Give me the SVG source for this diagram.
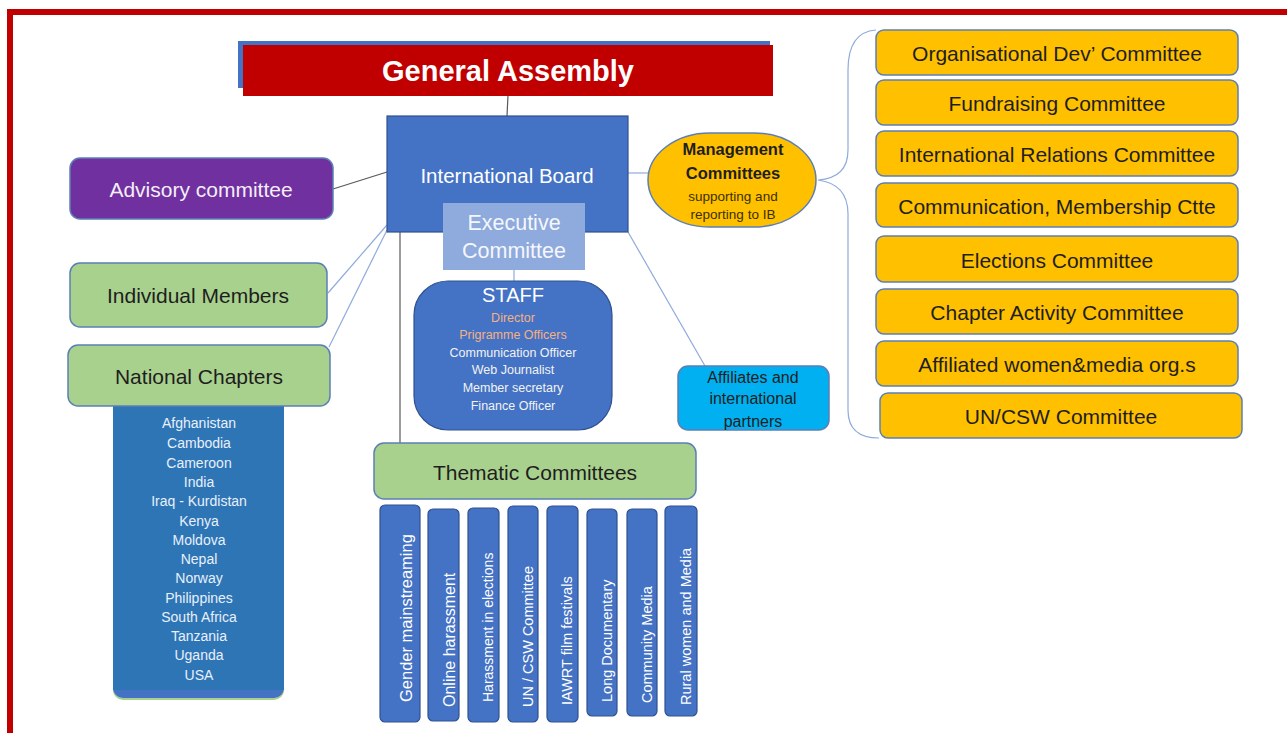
<svg xmlns="http://www.w3.org/2000/svg" width="1287" height="733" viewBox="0 0 1287 733">
<style>
text{font-family:"Liberation Sans",Arial,sans-serif;text-anchor:middle;dominant-baseline:central}
.blue{fill:#4472C4;stroke:#2F528F;stroke-width:1.2}
.green{fill:#A9D18E;stroke:#5B7FB5;stroke-width:1.5}
.gold{fill:#FFC000;stroke:#5B7FB5;stroke-width:1.5}
.dk{fill:#1E1E1E}
.wt{fill:#FFFFFF}
.line-d{stroke:#595959;stroke-width:1.2;fill:none}
.line-b{stroke:#8FAADC;stroke-width:1.2;fill:none}
.comm{font-size:21px}
.vt{font-size:14.5px;fill:#FFFFFF;text-anchor:start}
.cty{font-size:14px;fill:#E8F0FA}
.stf{font-size:12.5px;fill:#F2F2F2}
</style>
<rect x="0" y="0" width="1287" height="733" fill="#FFFFFF"/>
<path d="M10,733 L10,12 L1287,12" fill="none" stroke="#C00000" stroke-width="6"/>

<g id="connectors">
<path class="line-d" d="M508,95 L507,116"/>
<path class="line-d" d="M333,189 L387,172"/>
<path class="line-b" d="M387,225 L328,293"/>
<path class="line-b" d="M387,230 L329,347"/>
<path class="line-d" d="M400,232 L400,443"/>
<path class="line-b" d="M514,270 L514,281"/>
<path class="line-b" d="M628,173 L648,173"/>
<path class="line-b" d="M628,232 L705,366"/>
<path class="line-b" d="M876,30 Q848,32 848,70 L848,150 Q848,178 818,180 Q848,184 848,214 L848,410 Q848,438 879,438"/>
</g>

<g id="general-assembly">
<rect x="238" y="41" width="532" height="47" fill="#4472C4"/>
<rect x="243" y="45" width="530" height="51" fill="#C00000"/>
<text x="508" y="71" font-size="29" font-weight="bold" class="wt">General Assembly</text>
</g>

<g id="international-board">
<rect x="387" y="116" width="241" height="116" class="blue"/>
<text x="507" y="175" font-size="20.5" class="wt">International Board</text>
</g>

<g id="executive-committee">
<rect x="443" y="203" width="142" height="67" fill="#8FAADC"/>
<text x="514" y="223" font-size="21.5" fill="#F4F7FC">Executive</text>
<text x="514" y="251" font-size="21.5" fill="#F4F7FC">Committee</text>
</g>

<g id="staff">
<rect x="414" y="281" width="198" height="149" rx="34" class="blue"/>
<text x="513" y="295" font-size="20" class="wt">STAFF</text>
<text x="513" y="318" class="stf" style="fill:#F4B183">Director</text>
<text x="513" y="335" class="stf" style="fill:#F4B183">Prigramme  Officers</text>
<text x="513" y="353" class="stf">Communication Officer</text>
<text x="513" y="370" class="stf">Web Journalist</text>
<text x="513" y="388" class="stf">Member  secretary</text>
<text x="513" y="406" class="stf">Finance Officer</text>
</g>

<g id="advisory-committee">
<rect x="70" y="158" width="263" height="61" rx="10" fill="#7030A0" stroke="#5B7FB5" stroke-width="1.5"/>
<text x="201" y="189" class="comm" fill="#F4EEF8">Advisory committee</text>
</g>

<g id="individual-members">
<rect x="70" y="263" width="257" height="64" rx="10" class="green"/>
<text x="198" y="295" class="comm dk">Individual Members</text>
</g>

<g id="national-chapters">
<rect x="113" y="400" width="171" height="300" rx="10" fill="#A9D18E"/>
<rect x="113" y="400" width="171" height="298" rx="10" fill="#4472C4"/>
<rect x="113" y="400" width="171" height="290" fill="#2E75B6"/>
<rect x="68" y="345" width="262" height="61" rx="10" class="green"/>
<text x="199" y="376" class="comm dk">National Chapters</text>
<text x="199" y="423" class="cty">Afghanistan</text>
<text x="199" y="443" class="cty">Cambodia</text>
<text x="199" y="463" class="cty">Cameroon</text>
<text x="199" y="482" class="cty">India</text>
<text x="199" y="501" class="cty">Iraq - Kurdistan</text>
<text x="199" y="521" class="cty">Kenya</text>
<text x="199" y="540" class="cty">Moldova</text>
<text x="199" y="559" class="cty">Nepal</text>
<text x="199" y="578" class="cty">Norway</text>
<text x="199" y="598" class="cty">Philippines</text>
<text x="199" y="617" class="cty">South Africa</text>
<text x="199" y="636" class="cty">Tanzania</text>
<text x="199" y="655" class="cty">Uganda</text>
<text x="199" y="675" class="cty">USA</text>
</g>

<g id="thematic-committees">
<rect x="374" y="443" width="322" height="56" rx="10" class="green"/>
<text x="535" y="472" class="comm dk">Thematic Committees</text>
</g>

<g id="tc-gender-mainstreaming">
<rect x="380" y="505" width="40" height="217" rx="5" class="blue"/>
<text class="vt" style="font-size:16.5px" transform="translate(406,702) rotate(-90)">Gender  mainstreaming</text>
</g>
<g id="tc-online-harassment">
<rect x="428" y="509" width="31" height="212" rx="5" class="blue"/>
<text class="vt" style="font-size:16px" transform="translate(449,707) rotate(-90)">Online  harassment</text>
</g>
<g id="tc-harassment-elections">
<rect x="468" y="508" width="31" height="214" rx="5" class="blue"/>
<text class="vt" style="font-size:14px" transform="translate(488,702) rotate(-90)">Harassment in elections</text>
</g>
<g id="tc-un-csw">
<rect x="508" y="506" width="30" height="216" rx="5" class="blue"/>
<text class="vt" transform="translate(528,707) rotate(-90)">UN / CSW Committee</text>
</g>
<g id="tc-iawrt">
<rect x="547" y="506" width="31" height="216" rx="5" class="blue"/>
<text class="vt" transform="translate(567,705) rotate(-90)">IAWRT film festivals</text>
</g>
<g id="tc-long-documentary">
<rect x="587" y="509" width="30" height="207" rx="5" class="blue"/>
<text class="vt" transform="translate(607,702) rotate(-90)">Long Documentary</text>
</g>
<g id="tc-community-media">
<rect x="627" y="509" width="30" height="207" rx="5" class="blue"/>
<text class="vt" transform="translate(647,703) rotate(-90)">Community Media</text>
</g>
<g id="tc-rural-women">
<rect x="665" y="506" width="32" height="210" rx="5" class="blue"/>
<text class="vt" transform="translate(686,705) rotate(-90)">Rural women and Media</text>
</g>

<g id="management-committees">
<rect x="648" y="133" width="168" height="94" rx="62" ry="47" class="gold"/>
<text x="733" y="149" font-size="16.5" font-weight="bold" class="dk">Management</text>
<text x="733" y="173" font-size="16.5" font-weight="bold" class="dk">Committees</text>
<text x="733" y="196" font-size="13.5" fill="#3A3000">supporting and</text>
<text x="733" y="214" font-size="13.5" fill="#3A3000">reporting to IB</text>
</g>

<g id="affiliates">
<rect x="678" y="366" width="151" height="64" rx="10" fill="#00B0F0" stroke="#5B7FB5" stroke-width="1.5"/>
<text x="753" y="377" font-size="16" class="dk">Affiliates and</text>
<text x="753" y="398" font-size="16" class="dk">international</text>
<text x="753" y="421" font-size="16" class="dk">partners</text>
</g>

<g id="mc-organisational">
<rect x="876" y="30" width="362" height="45" rx="8" class="gold"/>
<text x="1057" y="53" class="comm dk">Organisational Dev’ Committee</text>
</g>
<g id="mc-fundraising">
<rect x="876" y="80" width="362" height="45" rx="8" class="gold"/>
<text x="1057" y="103" class="comm dk">Fundraising Committee</text>
</g>
<g id="mc-international-relations">
<rect x="876" y="131" width="362" height="45" rx="8" class="gold"/>
<text x="1057" y="154" class="comm dk">International Relations Committee</text>
</g>
<g id="mc-communication">
<rect x="876" y="183" width="362" height="44" rx="8" class="gold"/>
<text x="1057" y="206" class="comm dk">Communication, Membership Ctte</text>
</g>
<g id="mc-elections">
<rect x="876" y="236" width="362" height="46" rx="8" class="gold"/>
<text x="1057" y="260" class="comm dk">Elections Committee</text>
</g>
<g id="mc-chapter-activity">
<rect x="876" y="289" width="362" height="45" rx="8" class="gold"/>
<text x="1057" y="312" class="comm dk">Chapter Activity Committee</text>
</g>
<g id="mc-affiliated">
<rect x="876" y="341" width="362" height="45" rx="8" class="gold"/>
<text x="1057" y="364" class="comm dk">Affiliated women&amp;media org.s</text>
</g>
<g id="mc-un-csw">
<rect x="880" y="393" width="362" height="45" rx="8" class="gold"/>
<text x="1061" y="416" class="comm dk">UN/CSW Committee</text>
</g>
</svg>
